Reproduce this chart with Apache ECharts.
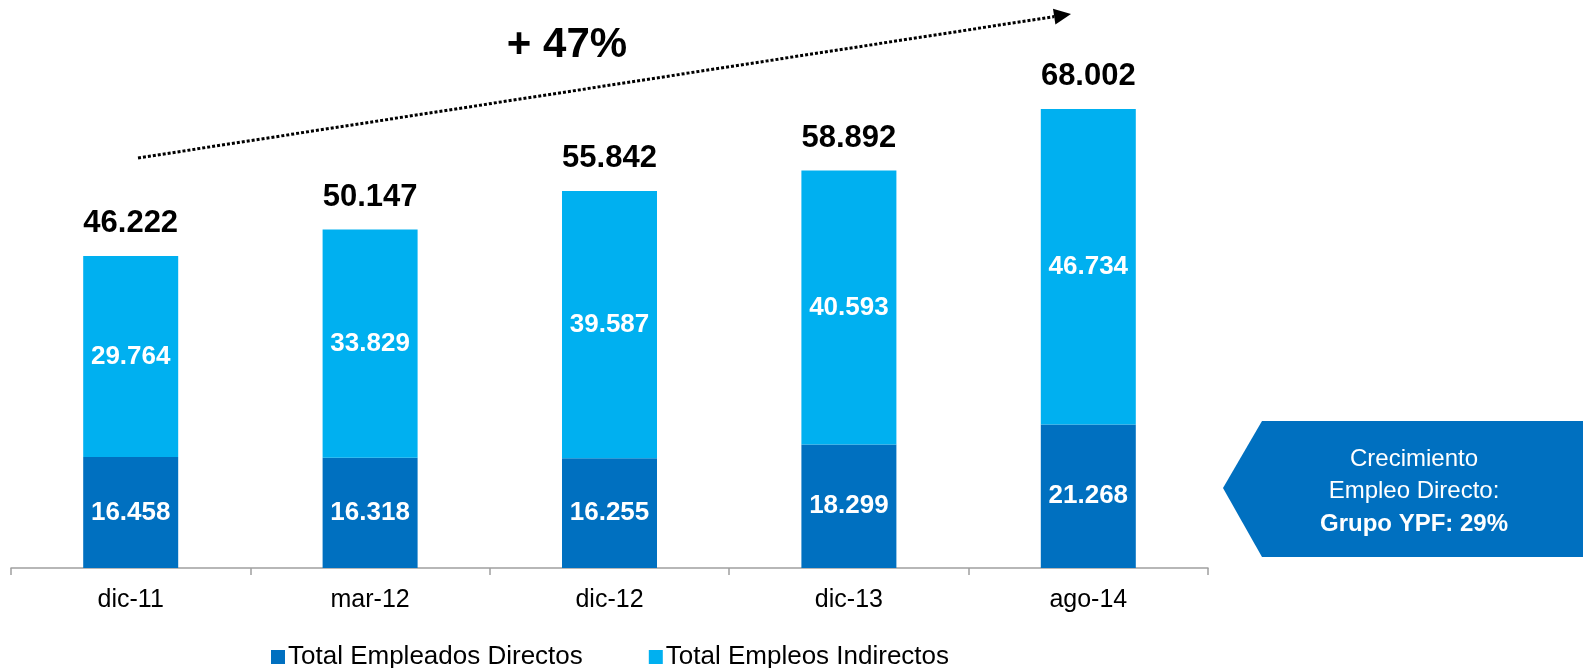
<!DOCTYPE html>
<html>
<head>
<meta charset="utf-8">
<script src="https://cdn.jsdelivr.net/npm/echarts@6/dist/echarts.min.js"></script>
<style>
  html, body { margin: 0; padding: 0; background: #fff; }
  #chart { width: 1583px; height: 668px; }
</style>
</head>
<body>
<div id="chart"></div>
<script>
const categories = ['dic-11', 'mar-12', 'dic-12', 'dic-13', 'ago-14'];
const directos = [16458, 16318, 16255, 18299, 21268];
const indirectos = [29764, 33829, 39587, 40593, 46734];
const totales = [46222, 50147, 55842, 58892, 68002];
const seriesNames = ['Total Empleados Directos', 'Total Empleos Indirectos'];
const growthLabel = '+ 47%';
const calloutLines = ['Crecimiento', 'Empleo Directo:', 'Grupo YPF: 29%'];

function fmt(v) {
  return String(v).replace(/\B(?=(\d{3})+(?!\d))/g, '.');
}

const FONT = '"Liberation Sans", Arial, sans-serif';
const chart = echarts.init(document.getElementById('chart'), null, { renderer: 'canvas' });

// dotted arrow geometry
const ax0 = 138, ay0 = 158, ax1 = 1071, ay1 = 14;
const ang = Math.atan2(ay1 - ay0, ax1 - ax0);
const headLen = 17, headHalf = 8;
const bx = ax1 - headLen * Math.cos(ang), by = ay1 - headLen * Math.sin(ang);
const px = -Math.sin(ang), py = Math.cos(ang);

const option = {
  backgroundColor: '#ffffff',
  animation: false,
  grid: { left: 11, right: 375, top: 28, bottom: 100, containLabel: false },
  legend: {
    data: seriesNames,
    left: 266,
    top: 639,
    icon: 'rect',
    itemWidth: 14,
    itemHeight: 14,
    itemGap: 66,
    textStyle: { fontFamily: FONT, fontSize: 26, color: '#000', padding: [0, 0, 0, -2] }
  },
  xAxis: {
    type: 'category',
    data: categories,
    boundaryGap: true,
    axisLine: { show: true, lineStyle: { color: '#A0A0A0', width: 1.5 } },
    axisTick: { show: true, alignWithLabel: false, length: 7, lineStyle: { color: '#A0A0A0', width: 1.5 } },
    axisLabel: { fontFamily: FONT, fontSize: 25, color: '#000', margin: 20 }
  },
  yAxis: {
    type: 'value',
    min: 0,
    max: 80000,
    show: false,
    splitLine: { show: false }
  },
  series: [
    {
      name: seriesNames[0],
      type: 'bar',
      stack: 'emp',
      barWidth: 95,
      data: directos,
      itemStyle: { color: '#0070C0' },
      label: {
        show: true, position: 'inside', color: '#fff',
        fontFamily: FONT, fontWeight: 'bold', fontSize: 26,
        formatter: p => fmt(p.value)
      }
    },
    {
      name: seriesNames[1],
      type: 'bar',
      stack: 'emp',
      barWidth: 95,
      data: indirectos,
      itemStyle: { color: '#00B0F0' },
      label: {
        show: true, position: 'inside', color: '#fff',
        fontFamily: FONT, fontWeight: 'bold', fontSize: 26,
        formatter: p => fmt(p.value)
      }
    },
    {
      name: 'Total',
      type: 'scatter',
      data: totales,
      symbol: 'circle',
      symbolSize: 2,
      itemStyle: { color: 'rgba(255,255,255,0)', opacity: 1 },
      silent: true,
      z: 5,
      label: {
        show: true, position: 'top', distance: 16, color: '#000', opacity: 1,
        fontFamily: FONT, fontWeight: 'bold', fontSize: 31,
        formatter: p => fmt(p.value)
      }
    }
  ],
  graphic: [
    {
      type: 'line',
      shape: { x1: ax0, y1: ay0, x2: bx, y2: by },
      style: { stroke: '#000', lineWidth: 3, lineDash: [3, 2] }
    },
    {
      type: 'polygon',
      shape: { points: [[ax1, ay1], [bx + px * headHalf, by + py * headHalf], [bx - px * headHalf, by - py * headHalf]] },
      style: { fill: '#000' }
    },
    {
      type: 'text',
      x: 567, y: 45,
      style: { text: growthLabel, fontFamily: FONT, fontWeight: 'bold', fontSize: 42, fill: '#000', align: 'center', verticalAlign: 'middle' }
    },
    {
      type: 'polygon',
      shape: { points: [[1223, 488], [1262, 421], [1583, 421], [1583, 557], [1262, 557]] },
      style: { fill: '#0070C0' }
    },
    {
      type: 'text',
      x: 1414, y: 459,
      style: { text: calloutLines[0], fontFamily: FONT, fontSize: 24, fill: '#fff', align: 'center', verticalAlign: 'middle' }
    },
    {
      type: 'text',
      x: 1414, y: 491,
      style: { text: calloutLines[1], fontFamily: FONT, fontSize: 24, fill: '#fff', align: 'center', verticalAlign: 'middle' }
    },
    {
      type: 'text',
      x: 1414, y: 524,
      style: { text: calloutLines[2], fontFamily: FONT, fontWeight: 'bold', fontSize: 24, fill: '#fff', align: 'center', verticalAlign: 'middle' }
    }
  ]
};
chart.setOption(option);
</script>
</body>
</html>
